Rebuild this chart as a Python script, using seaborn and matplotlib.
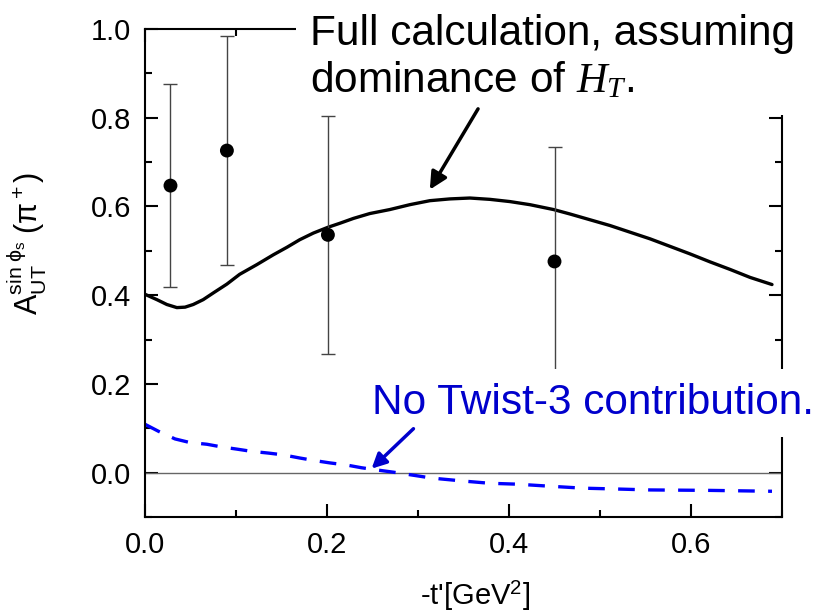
import matplotlib
matplotlib.use("Agg")
import matplotlib.pyplot as plt
from matplotlib.ticker import MultipleLocator, FormatStrFormatter
import seaborn as sns
import pandas as pd

# Datos
full_x = [0.0, 0.013, 0.024, 0.035, 0.044, 0.053, 0.064, 0.075, 0.090, 0.104,
          0.123, 0.141, 0.156, 0.170, 0.185, 0.201, 0.214, 0.229, 0.247, 0.269,
          0.291, 0.313, 0.335, 0.357, 0.379, 0.401, 0.423, 0.449, 0.467, 0.489,
          0.511, 0.533, 0.555, 0.577, 0.599, 0.621, 0.643, 0.665, 0.689]
full_y = [0.402, 0.390, 0.379, 0.372, 0.373, 0.379, 0.390, 0.405, 0.425, 0.447,
          0.469, 0.491, 0.508, 0.525, 0.540, 0.553, 0.562, 0.573, 0.584, 0.593,
          0.604, 0.613, 0.617, 0.619, 0.616, 0.611, 0.604, 0.593, 0.583, 0.570,
          0.557, 0.542, 0.527, 0.510, 0.493, 0.475, 0.458, 0.440, 0.424]

notw_x = [0.0, 0.015, 0.033, 0.049, 0.068, 0.084, 0.101, 0.117, 0.136, 0.152,
          0.170, 0.187, 0.203, 0.222, 0.238, 0.255, 0.273, 0.289, 0.308, 0.324,
          0.350, 0.379, 0.409, 0.440, 0.481, 0.520, 0.555, 0.620, 0.689]
notw_y = [0.109, 0.093, 0.076, 0.068, 0.064, 0.058, 0.053, 0.048, 0.044, 0.040,
          0.033, 0.027, 0.022, 0.017, 0.011, 0.006, 0.001, -0.004, -0.010, -0.014,
          -0.019, -0.024, -0.026, -0.030, -0.035, -0.037, -0.039, -0.040, -0.042]

data_x = [0.028, 0.090, 0.201, 0.450]
data_y = [0.647, 0.726, 0.536, 0.476]
data_err = [0.228, 0.258, 0.268, 0.257]

df_full = pd.DataFrame({"t": full_x, "A": full_y})
df_notw = pd.DataFrame({"t": notw_x, "A": notw_y})
df_data = pd.DataFrame({"t": data_x, "A": data_y, "err": data_err})

sns.set_style("ticks")
plt.rcParams["font.family"] = ["Liberation Sans", "DejaVu Sans"]
plt.rcParams["mathtext.fontset"] = "custom"
plt.rcParams["mathtext.rm"] = "Liberation Sans"
plt.rcParams["mathtext.it"] = "Liberation Serif:italic"
plt.rcParams["mathtext.bf"] = "Liberation Sans:bold"
for k in ["text.color", "axes.labelcolor", "xtick.color", "ytick.color", "axes.edgecolor"]:
    plt.rcParams[k] = "black"

fig = plt.figure(figsize=(8.15, 6.15), dpi=100)
ax = fig.add_axes([145 / 815, 98 / 615, 637 / 815, 488 / 615])

# línea de cero
ax.axhline(0, color="#666666", lw=1.0, zorder=1)

# cálculo completo
sns.lineplot(data=df_full, x="t", y="A", color="black", lw=2.4, ax=ax,
             sort=True, estimator=None, zorder=2)
# sin contribución twist-3
sns.lineplot(data=df_notw, x="t", y="A", color="#0000FF", lw=2.4, ax=ax,
             sort=True, estimator=None, linestyle=(0, (5, 4)), zorder=2)

# datos experimentales
ax.errorbar(df_data["t"], df_data["A"], yerr=df_data["err"], fmt="none",
            ecolor="#444444", elinewidth=1.0, capsize=4.7, capthick=1.0, zorder=2)
sns.scatterplot(data=df_data, x="t", y="A", color="black", s=100,
                edgecolor="none", ax=ax, zorder=3)

ax.set_xlim(0, 0.7)
ax.set_ylim(-0.1, 1.0)
ax.xaxis.set_major_locator(MultipleLocator(0.2))
ax.xaxis.set_minor_locator(MultipleLocator(0.1))
ax.yaxis.set_major_locator(MultipleLocator(0.2))
ax.yaxis.set_minor_locator(MultipleLocator(0.1))
ax.xaxis.set_major_formatter(FormatStrFormatter("%.1f"))
ax.yaxis.set_major_formatter(FormatStrFormatter("%.1f"))
ax.tick_params(which="both", direction="in", top=True, right=True, width=1.5,
               labelsize=21, pad=10)
ax.tick_params(which="major", length=9.5)
ax.tick_params(which="minor", length=5)
for s in ax.spines.values():
    s.set_linewidth(1.5)
    s.set_visible(True)

ax.set_xlabel(r"-t'[GeV$^{\mathregular{2}}$]", fontsize=21)
ax.xaxis.set_label_coords(0.518, -0.128)
ax.set_ylabel(r"$\mathrm{A_{UT}^{sin\ \phi_s}\ (\pi^+)}$", fontsize=22)
ax.yaxis.set_label_coords(-0.15, 0.56)

# anotaciones
ax.text(0.181, 0.858, "Full calculation, assuming\ndominance of $H_T$.",
        fontsize=30.5, color="black", ha="left", va="baseline", clip_on=False,
        zorder=5, bbox=dict(facecolor="white", edgecolor="none", pad=10))
ax.annotate("", xy=(0.313, 0.638), xytext=(0.366, 0.820),
            arrowprops=dict(arrowstyle="-|>", color="black", lw=2.5,
                            mutation_scale=26, shrinkA=0, shrinkB=0), zorder=6)

ax.text(0.249, 0.133, "No Twist-3 contribution.", fontsize=30.5, color="#0000CC",
        ha="left", va="baseline", clip_on=False, zorder=5,
        bbox=dict(facecolor="white", edgecolor="none", pad=10))
ax.annotate("", xy=(0.249, 0.009), xytext=(0.295, 0.099),
            arrowprops=dict(arrowstyle="-|>", color="#0000CC", lw=2.5,
                            mutation_scale=22, shrinkA=0, shrinkB=0), zorder=6)

fig.savefig("out.png", dpi=100)
